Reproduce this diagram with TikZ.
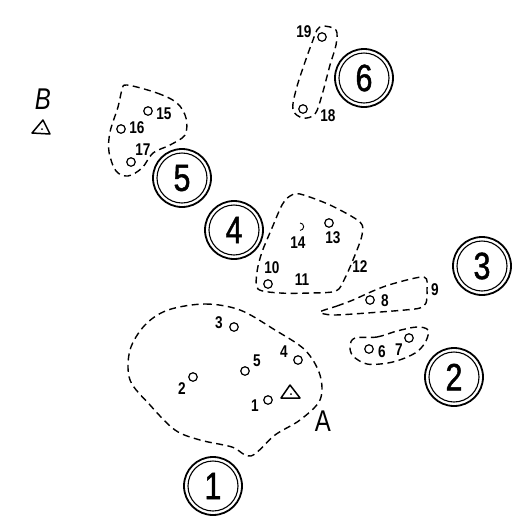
\documentclass[tikz,border=0pt]{standalone}
\usepackage{fontspec}
\setmainfont{Liberation Sans}
\newfontfamily\handfont[FakeStretch=0.8]{Liberation Sans}
\newfontfamily\ringfont[FakeStretch=0.8, FakeBold=1.2]{Liberation Sans}
\tikzset{
  ring/.style={circle, draw, line width=1.8pt, minimum size=58pt, inner sep=0pt,
    font=\ringfont\fontsize{38}{38}\selectfont},
  innerring/.style={draw, line width=1.1pt},
  pt/.style={circle, draw, line width=1.2pt, minimum size=8.5pt, inner sep=0pt},
  lab/.style={inner sep=0pt, font=\handfont\bfseries\fontsize{17}{17}\selectfont},
  zone/.style={draw, line width=1.4pt, dash pattern=on 7pt off 4.5pt},
  marker/.style={draw, line width=1.5pt, line join=round},
}
\begin{document}
\begin{tikzpicture}[x=1pt, y=-1pt]
\useasboundingbox (0,0) rectangle (523,523);

% numbered stations (double rings)
\node[ring] (s1) at (213,486) {1};
\node[ring] (s2) at (454,377) {2};
\node[ring] (s3) at (482,266) {3};
\node[ring] (s4) at (234,230) {4};
\node[ring] (s5) at (182,178) {5};
\node[ring] (s6) at (364,78) {6};
\foreach \s in {s1,s2,s3,s4,s5,s6}
  \draw[innerring] (\s.center) circle (25pt);

% dashed zones
\draw[zone] plot[smooth cycle, tension=0.55] coordinates {
  (168,310) (205,304) (240,310) (275,330) (305,350) (320,375) (320,400)
  (300,420) (275,435) (251,456) (232,447) (200,440) (175,430) (150,405)
  (130,380) (130,350) (145,325)};
\draw[zone] plot[smooth cycle, tension=0.55] coordinates {
  (127,85) (157,93) (177,103) (186,118) (185,135) (170,145) (153,153)
  (142,168) (128,176) (116,171) (109,152) (110,132) (118,107) (122,90)};
\draw[zone] plot[smooth cycle, tension=0.55] coordinates {
  (323,26) (336,30) (336,45) (330,65) (322,95) (315,114) (303,118)
  (293,110) (296,90) (305,62) (313,40) (317,30)};
\draw[zone] plot[smooth cycle, tension=0.5] coordinates {
  (300,194) (330,205) (360,222) (362,235) (355,255) (345,278) (336,291)
  (310,293) (280,293) (258,289) (257,272) (262,252) (272,228) (282,205)
  (290,196)};
\draw[zone] plot[smooth cycle, tension=0.5] coordinates {
  (320,312) (337,306) (353,300) (373,291) (392,284) (424,277) (427,290)
  (426,303) (420,308) (405,310) (367,313) (333,315)};
\draw[zone] plot[smooth cycle, tension=0.55] coordinates {
  (355,338) (377,337) (397,331) (417,327) (428,330) (426,341) (418,351)
  (405,358) (388,363) (367,364) (353,356) (350,346)};

% points of zone A
\node[pt] (p1) at (268,400) {};
\node[pt] (p2) at (193,377) {};
\node[pt] (p3) at (234,327) {};
\node[pt] (p4) at (298,360) {};
\node[pt] (p5) at (245,371) {};
\node[lab] (l1) at (255,406) {1};
\node[lab] (l2) at (182,389) {2};
\node[lab] (l3) at (219,323) {3};
\node[lab] (l4) at (284,352) {4};
\node[lab] (l5) at (257,361) {5};
\draw[marker] (290,385) -- (300,398) -- (281,398) -- cycle;
\fill (291,394) circle (1pt);
\node[inner sep=0pt, font=\handfont\fontsize{30}{30}\selectfont] (lA) at (323,421) {A};

% reference mark B
\node[inner sep=0pt, font=\handfont\itshape\fontsize{30}{30}\selectfont] (lB) at (43,99) {B};
\draw[marker] (43,120) -- (50,134) -- (32,133) -- cycle;
\fill (42,129) circle (1pt);

% zone 5
\node[pt] (p15) at (148,111) {};
\node[pt] (p16) at (121,129) {};
\node[pt] (p17) at (131,162) {};
\node[lab] (l15) at (164,114) {15};
\node[lab] (l16) at (137,128) {16};
\node[lab] (l17) at (143,150) {17};

% zone 6
\node[pt] (p19) at (322,37) {};
\node[pt] (p18) at (303,109) {};
\node[lab] (l19) at (304,32) {19};
\node[lab] (l18) at (328,116) {18};

% zone 4
\draw[line width=0.9pt] (300,223) arc (90:-90:3.7pt);
\coordinate (p14) at (300,227);
\node[pt] (p13) at (329,223) {};
\node[pt] (p10) at (268,284) {};
\node[lab] (l14) at (298,243) {14};
\node[lab] (l13) at (333,238) {13};
\node[lab] (l10) at (272,268) {10};
\node[lab] (l11) at (302,280) {11};
\node[lab] (l12) at (360,267) {12};

% zone 3
\node[pt] (p8) at (370,300) {};
\node[lab] (l8) at (385,301) {8};
\node[lab] (l9) at (435,290) {9};

% zone 2
\node[pt] (p6) at (369,349) {};
\node[pt] (p7) at (409,338) {};
\node[lab] (l6) at (382,352) {6};
\node[lab] (l7) at (399,350) {7};
\end{tikzpicture}
\end{document}
